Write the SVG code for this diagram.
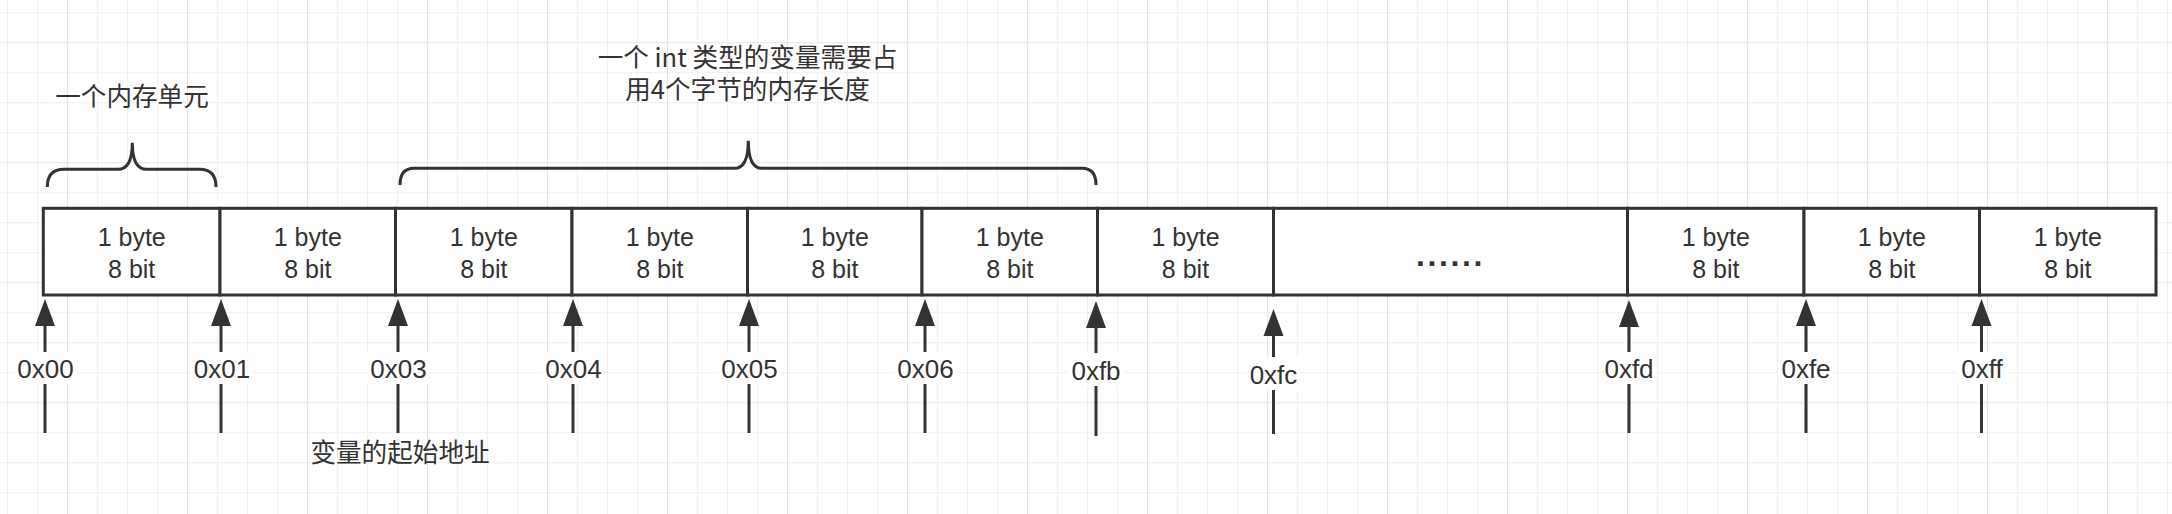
<svg xmlns="http://www.w3.org/2000/svg" width="2172" height="514" viewBox="0 0 2172 514">
<style>
.cell{fill:#ffffff;stroke:#333333;stroke-width:3}
.t{font-family:"Liberation Sans","Noto Sans CJK SC",sans-serif;font-size:25px;fill:#333333;text-anchor:middle}
.lbl{font-family:"Liberation Sans","Noto Sans CJK SC",sans-serif;font-size:26px;fill:#333333;text-anchor:middle}
.cjk{font-family:"Noto Sans CJK SC","Liberation Sans",sans-serif;font-size:25.6px;fill:#333333;text-anchor:middle}
.brace{fill:none;stroke:#333333;stroke-width:3}
.arr{stroke:#333333;stroke-width:3;fill:none;marker-end:url(#ah)}
.bg{fill:#ffffff}
</style>
<defs>
<pattern id="grid" patternUnits="userSpaceOnUse" x="67" y="42.2" width="120" height="120">
<rect x="0" y="0" width="120" height="120" fill="#ffffff"/>
<g fill="#f0f0f0">
<rect x="30" y="0" width="1" height="120"/>
<rect x="60" y="0" width="1" height="120"/>
<rect x="90" y="0" width="1" height="120"/>
<rect x="0" y="30" width="120" height="1"/>
<rect x="0" y="60" width="120" height="1"/>
<rect x="0" y="90" width="120" height="1"/>
</g>
<g fill="#e6e6e6">
<rect x="0" y="0" width="1" height="120"/>
<rect x="0" y="0" width="120" height="1"/>
</g>
</pattern>
<marker id="ah" markerUnits="userSpaceOnUse" markerWidth="30" markerHeight="24" viewBox="0 -12 30 24" refX="0" refY="0" orient="auto">
<path d="M0,-10 L27,0 L0,10 Z" fill="#333333"/>
</marker>
</defs>
<rect x="0" y="0" width="2172" height="514" fill="url(#grid)"/>

<g id="cell1"><rect class="cell" x="43.3" y="208.3" width="176.7" height="86.7"/><text class="t" x="131.7" y="246">1 byte</text><text class="t" x="131.7" y="277.5">8 bit</text></g>
<g id="cell2"><rect class="cell" x="220" y="208.3" width="175.5" height="86.7"/><text class="t" x="307.8" y="246">1 byte</text><text class="t" x="307.8" y="277.5">8 bit</text></g>
<g id="cell3"><rect class="cell" x="395.5" y="208.3" width="176.5" height="86.7"/><text class="t" x="483.8" y="246">1 byte</text><text class="t" x="483.8" y="277.5">8 bit</text></g>
<g id="cell4"><rect class="cell" x="572" y="208.3" width="175.5" height="86.7"/><text class="t" x="659.8" y="246">1 byte</text><text class="t" x="659.8" y="277.5">8 bit</text></g>
<g id="cell5"><rect class="cell" x="747.5" y="208.3" width="174.5" height="86.7"/><text class="t" x="834.8" y="246">1 byte</text><text class="t" x="834.8" y="277.5">8 bit</text></g>
<g id="cell6"><rect class="cell" x="922" y="208.3" width="175.5" height="86.7"/><text class="t" x="1009.8" y="246">1 byte</text><text class="t" x="1009.8" y="277.5">8 bit</text></g>
<g id="cell7"><rect class="cell" x="1097.5" y="208.3" width="176" height="86.7"/><text class="t" x="1185.5" y="246">1 byte</text><text class="t" x="1185.5" y="277.5">8 bit</text></g>
<g id="cell-ellipsis"><rect class="cell" x="1273.5" y="208.3" width="354" height="86.7"/><text x="1416" y="265.5" style="font-family:'Liberation Sans',sans-serif;font-size:32px;font-weight:bold;fill:#333333;letter-spacing:2.6px">......</text></g>
<g id="cell8"><rect class="cell" x="1627.5" y="208.3" width="176.5" height="86.7"/><text class="t" x="1715.8" y="246">1 byte</text><text class="t" x="1715.8" y="277.5">8 bit</text></g>
<g id="cell9"><rect class="cell" x="1804" y="208.3" width="175.5" height="86.7"/><text class="t" x="1891.8" y="246">1 byte</text><text class="t" x="1891.8" y="277.5">8 bit</text></g>
<g id="cell10"><rect class="cell" x="1979.5" y="208.3" width="176.5" height="86.7"/><text class="t" x="2067.8" y="246">1 byte</text><text class="t" x="2067.8" y="277.5">8 bit</text></g>

<g id="brace-unit">
<path class="brace" d="M47.3,187 Q47.3,169.3 64,169.3 L118,169.3 Q132.3,169.3 132.3,142.7 Q132.3,169.3 146.6,169.3 L199.5,169.3 Q216,169.3 216,187"/>
<text class="cjk" x="132" y="105.5">一个内存单元</text>
</g>
<g id="brace-int">
<path class="brace" d="M400,185 Q400,168.3 414,168.3 L734.5,168.3 Q748.3,168.3 748.3,140.7 Q748.3,168.3 762,168.3 L1082,168.3 Q1096,168.3 1096,185"/>
<text class="cjk" x="747.5" y="67"><tspan x="747.5" y="67">一个 int 类型的变量需要占</tspan><tspan x="747.5" y="99">用4个字节的内存长度</tspan></text>
</g>
<g id="start-label"><text class="cjk" x="400" y="461.5">变量的起始地址</text></g>

<g id="connectors">
<line class="arr" x1="45" y1="433" x2="45" y2="326"/>
<line class="arr" x1="221" y1="433" x2="221" y2="326"/>
<line class="arr" x1="398" y1="433" x2="398" y2="326"/>
<line class="arr" x1="573" y1="433" x2="573" y2="326"/>
<line class="arr" x1="749" y1="433" x2="749" y2="326"/>
<line class="arr" x1="925" y1="433" x2="925" y2="326"/>
<line class="arr" x1="1096" y1="436" x2="1096" y2="328"/>
<line class="arr" x1="1273.5" y1="434" x2="1273.5" y2="336"/>
<line class="arr" x1="1629" y1="433" x2="1629" y2="327"/>
<line class="arr" x1="1806" y1="433" x2="1806" y2="326"/>
<line class="arr" x1="1981.5" y1="433" x2="1981.5" y2="326"/>
</g>

<g id="addr-labels">
<rect class="bg" x="14" y="352" width="62" height="32"/><text class="lbl" x="45.5" y="378.3">0x00</text>
<rect class="bg" x="190" y="352" width="62" height="32"/><text class="lbl" x="222" y="378.3">0x01</text>
<rect class="bg" x="367" y="352" width="62" height="32"/><text class="lbl" x="398.5" y="378.3">0x03</text>
<rect class="bg" x="542" y="352" width="62" height="32"/><text class="lbl" x="573.5" y="378.3">0x04</text>
<rect class="bg" x="718" y="352" width="62" height="32"/><text class="lbl" x="749.5" y="378.3">0x05</text>
<rect class="bg" x="894" y="352" width="62" height="32"/><text class="lbl" x="925.5" y="378.3">0x06</text>
<rect class="bg" x="1068" y="353" width="56" height="33"/><text class="lbl" x="1096" y="380">0xfb</text>
<rect class="bg" x="1246" y="357" width="55" height="33"/><text class="lbl" x="1273.5" y="383.5">0xfc</text>
<rect class="bg" x="1601" y="352" width="56" height="32"/><text class="lbl" x="1629" y="378.3">0xfd</text>
<rect class="bg" x="1778" y="352" width="56" height="32"/><text class="lbl" x="1806" y="378.3">0xfe</text>
<rect class="bg" x="1957" y="352" width="50" height="32"/><text class="lbl" x="1982" y="378.3">0xff</text>
</g>
</svg>
